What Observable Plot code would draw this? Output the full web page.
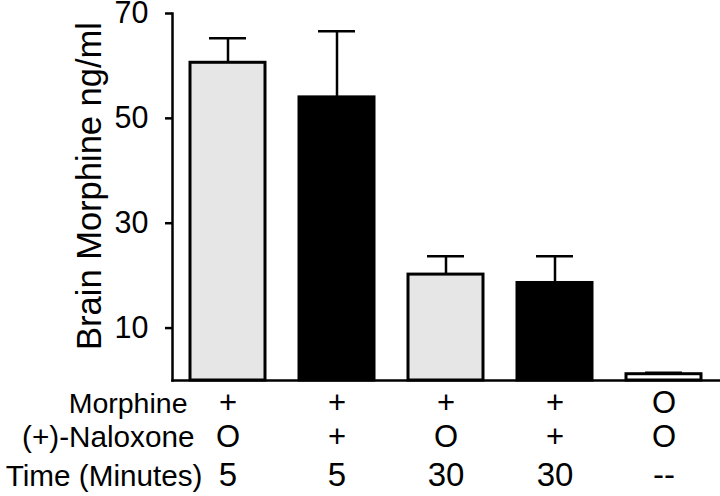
<!DOCTYPE html>
<html>
<head>
<meta charset="utf-8">
<script src="https://cdn.jsdelivr.net/npm/d3@7"></script>
<script src="https://cdn.jsdelivr.net/npm/@observablehq/plot@0.6"></script>
<style>
  html, body { margin: 0; padding: 0; background: #fff; }
  #chart { width: 720px; height: 496px; }
</style>
</head>
<body>
<div id="chart"></div>
<script>
const groups = ["G1", "G2", "G3", "G4", "G5"];
const means = [60.6, 54.0, 20.2, 18.6, 1.2];
const upper = [65.3, 66.6, 23.7, 23.7, 1.5];
const fills = ["#e6e6e6", "#000000", "#e6e6e6", "#000000", "#ffffff"];
const morphineRow = ["+", "+", "+", "+", "O"];
const naloxoneRow = ["O", "+", "O", "+", "O"];
const timeRow = ["5", "5", "30", "30", "--"];
const rowLabels = ["Morphine", "(+)-Naloxone", "Time (Minutes)"];
const yTicks = [10, 30, 50, 70];
const yLabel = "Brain Morphine ng/ml";

const data = groups.map((g, i) => ({g, mean: means[i], upper: upper[i], fill: fills[i]}));
const rows = [morphineRow, naloxoneRow, timeRow];
const rowDy = [32, 66, 105];
const rowFont = [31, 31, 33];
const labelDx = [15, 22, 30];
const labelFont = [28.5, 29.7, 29.7];
const font = "Liberation Sans, Arial, Helvetica, sans-serif";

const marks = [
  Plot.ruleX(data, {x: "g", y1: "mean", y2: "upper", stroke: "black", strokeWidth: 2.5}),
  Plot.tickY(data, {x: "g", y: "upper", stroke: "black", strokeWidth: 2.5, insetLeft: 19, insetRight: 19}),
  Plot.barY(data, {x: "g", y: "mean", fill: d => d.fill, stroke: "black", strokeWidth: 3}),
  Plot.frame({anchor: "left", stroke: "black", strokeWidth: 2.5}),
  Plot.frame({anchor: "bottom", stroke: "black", strokeWidth: 2.5}),
  Plot.axisY({ticks: yTicks, tickSize: 7, tickPadding: 17, fontSize: 30.5, label: null, strokeWidth: 2.5}),
  Plot.text([yLabel], {frameAnchor: "left", textAnchor: "middle", rotate: -90, dx: -83, dy: -11, fontSize: 34.5, fill: "black"})
];
rows.forEach((row, r) => {
  marks.push(Plot.text(groups.map((g, i) => ({g, t: row[i]})), {x: "g", text: "t", frameAnchor: "bottom", dy: rowDy[r], fontSize: rowFont[r], fill: "black"}));
  marks.push(Plot.text([rowLabels[r]], {frameAnchor: "bottom-left", textAnchor: "end", dx: labelDx[r], dy: rowDy[r], fontSize: labelFont[r], fill: "black"}));
});

const chart = Plot.plot({
  width: 720,
  height: 496,
  marginTop: 13,
  marginBottom: 116,
  marginLeft: 172,
  marginRight: 0,
  style: {fontFamily: font, background: "#fff", color: "black", overflow: "visible"},
  x: {domain: groups, paddingInner: 0.31, paddingOuter: 0.155, axis: null},
  y: {domain: [0, 70], axis: null},
  marks
});
document.getElementById("chart").appendChild(chart);
</script>
</body>
</html>
